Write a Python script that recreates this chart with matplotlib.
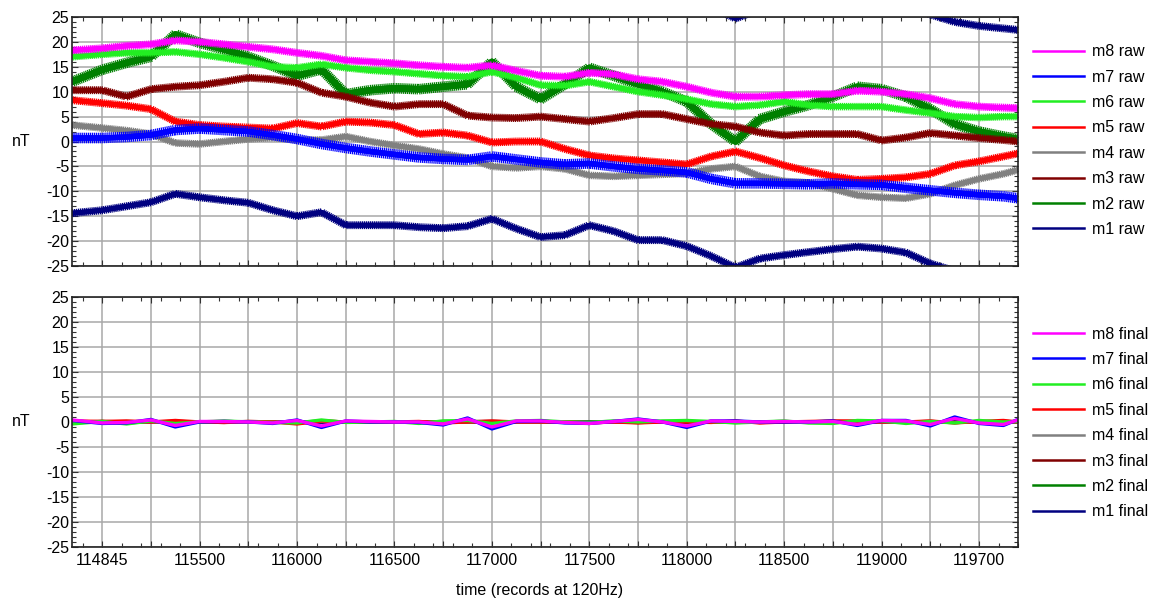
import matplotlib
matplotlib.use("Agg")
import matplotlib.pyplot as plt
import matplotlib.patheffects as pe
from matplotlib.lines import Line2D
from matplotlib.ticker import MultipleLocator, FuncFormatter
import numpy as np

plt.rcParams['font.family'] = ['Liberation Sans', 'DejaVu Sans']
plt.rcParams['font.size'] = 11.5

# sample times (records)
t = [114845, 115000, 115125, 115250, 115375, 115500, 115625, 115750, 115875,
     116000, 116125, 116250, 116375, 116500, 116625, 116750, 116875, 117000,
     117125, 117250, 117375, 117500, 117625, 117750, 117875, 118000, 118125,
     118250, 118375, 118500, 118625, 118750, 118875, 119000, 119125, 119250,
     119375, 119500, 119625, 119700]

# raw magnetometer readings (nT)
m8_raw = [18.3, 18.7, 19.2, 19.5, 20.3, 20.0, 19.5, 19.0, 18.5, 17.8, 17.2, 16.3,
          16.0, 15.7, 15.3, 15.0, 14.8, 15.3, 14.2, 13.2, 13.0, 13.8, 13.5, 12.5,
          12.0, 11.0, 9.8, 9.0, 9.0, 9.3, 9.5, 9.5, 10.2, 10.0, 9.5, 8.7, 7.5,
          7.0, 6.8, 6.7]
m7_raw = [0.7, 0.7, 0.9, 1.3, 2.3, 2.6, 2.3, 2.0, 1.3, 0.5, -0.5, -1.3, -2.0,
          -2.6, -3.2, -3.5, -3.7, -3.0, -3.6, -4.2, -4.6, -4.4, -5.0, -5.5, -5.8,
          -6.2, -7.5, -8.4, -8.4, -8.5, -8.6, -8.4, -8.6, -8.7, -9.3, -9.8, -10.3,
          -10.7, -11.0, -11.4]
m6_raw = [17.0, 17.5, 17.8, 17.8, 18.0, 17.5, 16.8, 16.0, 15.0, 14.8, 15.5, 14.8,
          14.3, 14.0, 13.6, 13.2, 13.0, 14.0, 12.8, 11.3, 11.2, 12.0, 11.0, 10.0,
          9.3, 8.5, 7.5, 7.0, 7.3, 8.0, 7.3, 7.0, 7.0, 7.0, 6.3, 5.7, 5.0, 4.8,
          5.0, 5.0]
m5_raw = [8.3, 7.7, 7.2, 6.5, 4.0, 3.3, 3.0, 2.8, 2.6, 3.7, 3.0, 4.0, 3.8, 3.3,
          1.5, 1.8, 1.2, -0.2, 0.0, 0.0, -1.5, -2.8, -3.4, -3.8, -4.2, -4.6,
          -3.0, -2.0, -3.3, -4.8, -6.0, -7.0, -7.7, -7.5, -7.2, -6.5, -4.8, -4.0,
          -3.0, -2.4]
m4_raw = [3.3, 2.7, 2.2, 1.5, -0.3, -0.5, 0.0, 0.5, 0.8, 0.3, 0.3, 1.0, 0.0,
          -0.8, -1.5, -2.5, -3.3, -5.0, -5.3, -5.0, -5.5, -6.8, -7.0, -6.8, -6.6,
          -6.4, -5.5, -5.0, -7.0, -8.0, -8.3, -9.5, -10.8, -11.2, -11.4, -10.5,
          -8.8, -7.5, -6.5, -5.7]
m3_raw = [10.3, 10.3, 9.0, 10.5, 11.0, 11.3, 12.0, 12.8, 12.5, 11.8, 9.8, 9.0,
          7.8, 7.0, 7.5, 7.5, 5.2, 4.8, 4.7, 5.0, 4.5, 4.0, 4.7, 5.5, 5.5, 4.5,
          3.5, 3.0, 1.8, 1.2, 1.5, 1.5, 1.5, 0.2, 0.8, 1.7, 1.2, 0.7, 0.3, 0.0]
m2_raw = [12.0, 14.4, 15.8, 17.0, 21.5, 19.8, 18.5, 17.0, 15.2, 13.2, 14.5, 9.5,
          10.3, 10.7, 10.5, 11.0, 11.5, 16.0, 11.0, 8.5, 11.5, 14.8, 13.2, 11.5,
          10.0, 8.0, 3.5, 0.0, 4.5, 6.0, 7.3, 9.0, 11.0, 10.5, 9.0, 6.5, 3.5,
          2.0, 1.0, 0.5]
m1_raw = [-14.4, -13.8, -13.0, -12.2, -10.5, -11.2, -11.8, -12.3, -13.8, -15.0,
          -14.2, -16.8, -16.8, -16.8, -17.2, -17.4, -17.0, -15.5, -17.5, -19.2,
          -18.8, -16.8, -18.0, -19.8, -19.8, -21.0, -23.0, -25.3, -23.5, -22.8,
          -22.2, -21.6, -21.1, -21.5, -22.3, -24.5, -26.0, -26.8, -27.3, -27.6]

# corrected readings (nT)
m8_final = [0.4, -0.2, -0.1, 0.4, -0.7, 0.1, 0.1, 0.0, -0.2, 0.3, -0.8, 0.2,
            0.1, 0.0, 0.0, -0.4, 0.6, -1.0, 0.2, 0.2, -0.1, -0.3, 0.1, 0.5, 0.0,
            -0.8, 0.2, 0.1, 0.0, 0.1, 0.0, 0.1, -0.5, 0.3, 0.2, -0.5, 0.7, -0.2,
            -0.5, 0.4]
m7_final = [0.3, -0.3, -0.2, 0.5, -1.0, 0.0, 0.1, 0.0, -0.3, 0.4, -1.1, 0.2,
            0.0, 0.0, -0.1, -0.6, 0.8, -1.4, 0.1, 0.2, -0.2, -0.3, 0.1, 0.6, 0.0,
            -1.1, 0.2, 0.2, 0.0, 0.0, 0.0, 0.2, -0.7, 0.3, 0.3, -0.8, 1.0, -0.3,
            -0.7, 0.5]
m6_final = [-0.4, 0.1, -0.4, 0.2, -0.3, 0.0, 0.2, 0.0, -0.1, -0.2, 0.4, -0.1,
            0.0, 0.1, -0.3, 0.2, 0.3, -0.3, 0.2, 0.3, 0.0, -0.1, 0.2, 0.0, 0.2,
            0.3, 0.1, -0.2, 0.0, 0.2, -0.2, -0.3, 0.3, 0.2, -0.3, 0.1, -0.2, 0.3,
            0.0, 0.1]
m5_final = [0.2, 0.1, 0.2, 0.0, 0.3, 0.0, -0.1, 0.1, 0.0, -0.4, 0.2, 0.0, 0.0,
            0.0, 0.1, -0.2, 0.0, 0.2, 0.0, 0.0, 0.0, -0.2, 0.0, -0.2, 0.0, 0.0,
            -0.1, 0.2, -0.2, 0.0, 0.1, 0.2, 0.2, 0.0, 0.0, 0.2, -0.2, 0.1, 0.3,
            0.0]
m4_final = [0.1, 0.0, 0.1, 0.0, 0.1, 0.0, 0.0, 0.1, 0.0, -0.1, 0.1, 0.0, 0.0,
            0.0, 0.0, -0.1, 0.1, 0.1, 0.0, 0.0, 0.0, -0.1, 0.0, -0.1, 0.0, 0.1,
            0.0, 0.1, -0.1, 0.0, 0.0, 0.1, 0.1, 0.0, 0.0, 0.1, -0.1, 0.0, 0.1,
            0.0]
m3_final = [0.0, 0.1, 0.0, 0.0, 0.1, 0.0, -0.1, 0.0, 0.0, -0.2, 0.1, 0.0, 0.0,
            0.0, 0.0, -0.1, 0.0, 0.1, 0.0, 0.0, 0.0, -0.1, 0.0, -0.1, 0.0, 0.0,
            0.0, 0.1, -0.1, 0.0, 0.0, 0.1, 0.0, 0.0, 0.0, 0.1, -0.1, 0.0, 0.1,
            0.0]
m2_final = [-0.2, 0.1, -0.2, 0.1, -0.1, 0.0, 0.1, 0.0, 0.0, -0.1, 0.2, 0.0,
            0.0, 0.0, -0.1, 0.1, 0.1, -0.1, 0.1, 0.1, 0.0, 0.0, 0.1, 0.0, 0.1,
            0.1, 0.0, -0.1, 0.0, 0.1, -0.1, -0.1, 0.1, 0.1, -0.1, 0.0, -0.1, 0.1,
            0.0, 0.0]
m1_final = [0.1, 0.0, 0.0, 0.1, -0.1, 0.0, 0.0, 0.0, 0.0, 0.1, -0.1, 0.0, 0.0,
            0.0, 0.0, 0.0, 0.1, -0.1, 0.0, 0.0, 0.0, 0.0, 0.0, 0.1, 0.0, -0.1,
            0.0, 0.0, 0.0, 0.0, 0.0, 0.0, 0.0, 0.0, 0.0, 0.0, 0.1, 0.0, 0.0, 0.0]

names = ['m1', 'm2', 'm3', 'm4', 'm5', 'm6', 'm7', 'm8']
colors = ['#000080', '#008000', '#800000', '#808080',
          '#ff0000', '#22ee22', '#0000ff', '#ff00ff']
raw = [m1_raw, m2_raw, m3_raw, m4_raw, m5_raw, m6_raw, m7_raw, m8_raw]
final = [m1_final, m2_final, m3_final, m4_final,
         m5_final, m6_final, m7_final, m8_final]
# core width (pt) and ripple half-width (relative to tick spacing) per channel
core_lw = [3.4, 4.6, 3.4, 3.4, 3.4, 3.4, 3.8, 3.4]
ripple = [1.7, 2.4, 1.7, 1.6, 1.7, 1.6, 2.4, 1.7]

tick_labels = {115000: '114845', 115500: '115500', 116000: '116000',
               116500: '116500', 117000: '117000', 117500: '117500',
               118000: '118000', 118500: '118500', 119000: '119000',
               119500: '119700'}


def jitter(width):
    return [pe.withTickedStroke(spacing=1.4, angle=90, length=width, linewidth=0.9),
            pe.withTickedStroke(spacing=1.4, angle=-90, length=width, linewidth=0.9),
            pe.Normal()]


def style_axes(ax, show_xlabels):
    ax.set_xlim(114845, 119700)
    ax.set_ylim(-25, 25)
    ax.xaxis.set_major_locator(MultipleLocator(250))
    ax.xaxis.set_minor_locator(MultipleLocator(100))
    ax.yaxis.set_major_locator(MultipleLocator(5))
    ax.yaxis.set_minor_locator(MultipleLocator(1))
    if show_xlabels:
        ax.xaxis.set_major_formatter(
            FuncFormatter(lambda v, p: tick_labels.get(int(round(v)), '')))
    else:
        ax.xaxis.set_major_formatter(FuncFormatter(lambda v, p: ''))
    ax.yaxis.set_major_formatter(FuncFormatter(lambda v, p: '%d' % v))
    ax.tick_params(which='both', direction='in', top=True, right=True,
                   color='#333333', width=0.8)
    ax.tick_params(which='major', length=4, pad=4)
    ax.tick_params(which='minor', length=3)
    ax.tick_params(axis='y', which='major', pad=2)
    ax.grid(True, which='major', color='#a8a8a8', lw=1.1)
    ax.set_axisbelow(True)
    for s in ax.spines.values():
        s.set_color('#222222')
        s.set_linewidth(1.2)
    ax.set_ylabel('nT', rotation=0, va='center', ha='center')
    ax.yaxis.set_label_coords(-0.054, 0.5)


fig = plt.figure(figsize=(11.58, 6.06), dpi=100)
ax_raw = fig.add_axes([0.0622, 0.561, 0.8169, 0.411])
ax_fin = fig.add_axes([0.0622, 0.0974, 0.8169, 0.4126])

for name, c, y, lw, w in zip(names, colors, raw, core_lw, ripple):
    y = np.array(y)
    ax_raw.plot(t, y, color=c, lw=lw, solid_joinstyle='round',
                path_effects=jitter(w))
    # values below the range fold over to the top like the recorder does
    ax_raw.plot(t, y + 50, color=c, lw=lw, solid_joinstyle='round',
                path_effects=jitter(w))

for name, c, y in zip(names, colors, final):
    ax_fin.plot(t, y, color=c, lw=2.4, solid_joinstyle='round',
                solid_capstyle='round')

style_axes(ax_raw, False)
style_axes(ax_fin, True)

handles = [Line2D([], [], color=c, lw=1.8) for c in colors[::-1]]
fig.legend(handles, [n + ' raw' for n in names[::-1]], loc='center left',
           bbox_to_anchor=(0.885, 0.768), frameon=False, borderpad=0,
           handlelength=3.2, handletextpad=0.5, labelspacing=0.65)
fig.legend(handles, [n + ' final' for n in names[::-1]], loc='center left',
           bbox_to_anchor=(0.885, 0.302), frameon=False, borderpad=0,
           handlelength=3.2, handletextpad=0.5, labelspacing=0.65)

fig.text(0.466, 0.025, 'time (records at 120Hz)', ha='center', va='center')

fig.savefig('out.png', dpi=100)
